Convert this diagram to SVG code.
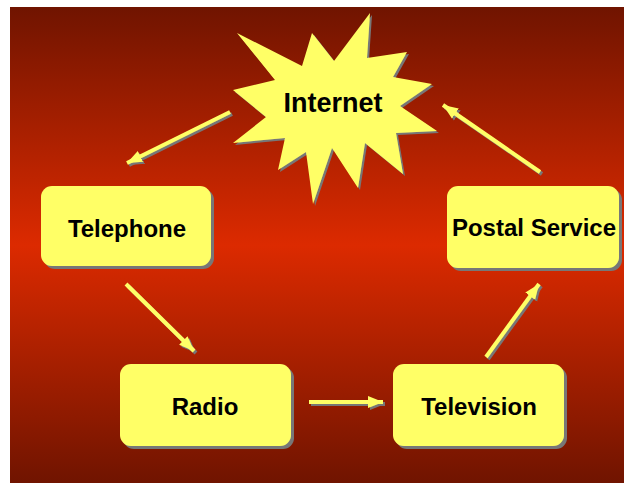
<svg xmlns="http://www.w3.org/2000/svg" width="624" height="483" viewBox="0 0 624 483">
<defs>
<linearGradient id="bg" x1="0" y1="0" x2="0" y2="1">
<stop offset="0" stop-color="#701400"/>
<stop offset="0.5" stop-color="#DC2A00"/>
<stop offset="1" stop-color="#701400"/>
</linearGradient>
<filter id="sh" x="-10%" y="-10%" width="130%" height="130%">
<feDropShadow dx="3" dy="3" stdDeviation="0.4" flood-color="#777777" flood-opacity="1"/>
</filter>
<filter id="ash" x="-20%" y="-20%" width="150%" height="150%">
<feDropShadow dx="2" dy="2" stdDeviation="0.3" flood-color="#777777" flood-opacity="1"/>
</filter>
<marker id="ah" markerUnits="userSpaceOnUse" markerWidth="18" markerHeight="14" refX="15" refY="7" orient="auto">
<path d="M0,1 L15,7 L0,13 Z" fill="#FFFF66"/>
</marker>
</defs>
<style>
.node{fill:#FFFF66;}
.lbl{font-family:"Liberation Sans",Arial,sans-serif;font-weight:bold;font-size:24px;fill:#000;text-anchor:middle;}
.arr{stroke:#FFFF66;stroke-width:4;fill:none;marker-end:url(#ah);}
</style>
<rect x="10" y="7" width="614" height="476" fill="url(#bg)"/>
<g id="connectors" filter="url(#ash)">
<line class="arr" x1="230" y1="112" x2="127" y2="163"/>
<line class="arr" x1="126" y1="284" x2="194" y2="351"/>
<line class="arr" x1="309" y1="402" x2="383" y2="402"/>
<line class="arr" x1="486" y1="357" x2="539" y2="284"/>
<line class="arr" x1="540" y1="172" x2="443" y2="105"/>
</g>
<g id="internet">
<polygon class="node" filter="url(#ash)" points="237,33 302,66 312,33 334,61 370,13 367,58 407,52 393,77 432,84 400,106 437,131 396,133 403,174 365,143 358,188 332,148 313,204 306,152 278,170 285,138 233,143 266,117 233,90 275,80"/>
<text class="lbl" x="333" y="112" style="font-size:27px">Internet</text>
</g>
<g id="telephone">
<rect class="node" filter="url(#sh)" x="41" y="186" width="170" height="80" rx="11"/>
<text class="lbl" x="127" y="237">Telephone</text>
</g>
<g id="postal">
<rect class="node" filter="url(#sh)" x="447" y="186" width="172" height="82" rx="11"/>
<text class="lbl" x="534" y="236">Postal Service</text>
</g>
<g id="radio">
<rect class="node" filter="url(#sh)" x="120" y="364" width="171" height="82" rx="11"/>
<text class="lbl" x="205" y="415">Radio</text>
</g>
<g id="television">
<rect class="node" filter="url(#sh)" x="393" y="364" width="171" height="82" rx="11"/>
<text class="lbl" x="479" y="415">Television</text>
</g>
</svg>
